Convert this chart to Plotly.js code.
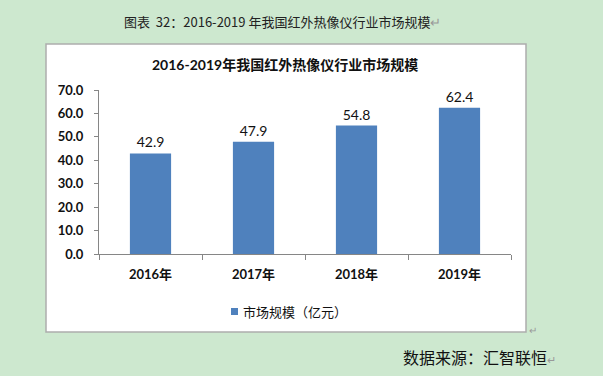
<!DOCTYPE html>
<html>
<head>
<meta charset="utf-8">
<script src="https://cdn.plot.ly/plotly-3.0.1.min.js"></script>
<style>
html,body{margin:0;padding:0;background:#cde8cf;}
#chart{width:603px;height:376px;}
</style>
</head>
<body>
<div id="chart"></div>
<script>
// ---- data ----
const categories = ["2016年", "2017年", "2018年", "2019年"];
const marketSize = [42.9, 47.9, 54.8, 62.4];
const seriesName = "市场规模（亿元）";
const chartTitle = "2016-2019年我国红外热像仪行业市场规模";
const docTitle = "图表  32：2016-2019 年我国红外热像仪行业市场规模";
const sourceText = "数据来源：汇智联恒";

// ---- layout helpers (pixel -> paper) ----
const W = 603, H = 376;
const M = {l: 99, r: 92, t: 90, b: 122};
const PW = W - M.l - M.r, PH = H - M.t - M.b;
const px = x => (x - M.l) / PW;
const py = y => (H - M.b - y) / PH;

const latin = "Lato, 'Noto Sans CJK SC', sans-serif";
const cjk = "'Noto Sans CJK SC', sans-serif";

const trace = {
  type: "bar",
  x: categories,
  y: marketSize,
  name: seriesName,
  marker: {color: "#4f81bd"},
  width: 0.4,
  text: marketSize.map(v => v.toFixed(1)),
  textposition: "outside",
  cliponaxis: false,
  textfont: {family: latin, size: 14, color: "#111"},
  showlegend: false,
  hoverinfo: "skip"
};

const layout = {
  width: W, height: H,
  margin: M,
  paper_bgcolor: "#cde8cf",
  plot_bgcolor: "rgba(0,0,0,0)",
  font: {family: latin, color: "#111"},
  xaxis: {
    type: "category",
    showline: true, linecolor: "#868686", linewidth: 1,
    ticks: "outside", ticklen: 5, tickcolor: "#868686",
    tickson: "boundaries",
    showgrid: false, zeroline: false,
    tickfont: {family: latin, size: 13, weight: "bold", color: "#111"},
    ticklabelstandoff: 8,
    fixedrange: true
  },
  yaxis: {
    range: [0, 70], dtick: 10, tickformat: ".1f",
    showline: true, linecolor: "#868686", linewidth: 1,
    ticks: "outside", ticklen: 4, tickcolor: "#868686",
    showgrid: false, zeroline: false,
    tickfont: {family: latin, size: 13, weight: "bold", color: "#111"},
    ticklabelstandoff: 8,
    fixedrange: true
  },
  shapes: [
    {type: "rect", xref: "paper", yref: "paper", layer: "below",
     x0: px(46), x1: px(526), y0: py(332), y1: py(44),
     fillcolor: "#ffffff", line: {color: "#adadad", width: 1.5}},
    {type: "rect", xref: "paper", yref: "paper",
     x0: px(231), x1: px(238), y0: py(315), y1: py(308),
     fillcolor: "#4f81bd", line: {width: 0}}
  ],
  annotations: [
    {xref: "paper", yref: "paper", x: px(122), y: py(21), xanchor: "left", yanchor: "middle",
     showarrow: false, text: docTitle + "<span style='color:#999'>↵</span>",
     font: {family: cjk, size: 13, color: "#222"}},
    {xref: "paper", yref: "paper", x: px(285), y: py(64), xanchor: "center", yanchor: "middle",
     showarrow: false, text: "<b>" + chartTitle + "</b>",
     font: {family: latin, size: 14, color: "#111"}},
    {xref: "paper", yref: "paper", x: px(241), y: py(311), xanchor: "left", yanchor: "middle",
     showarrow: false, text: seriesName,
     font: {family: cjk, size: 13, color: "#111"}},
    {xref: "paper", yref: "paper", x: px(527), y: py(329), xanchor: "left", yanchor: "middle",
     showarrow: false, text: "↵", font: {family: cjk, size: 10, color: "#999"}},
    {xref: "paper", yref: "paper", x: px(401), y: py(357), xanchor: "left", yanchor: "middle",
     showarrow: false, text: sourceText + "<span style='color:#999;font-size:11px'>↵</span>",
     font: {family: cjk, size: 16, color: "#111"}}
  ]
};

Plotly.newPlot("chart", [trace], layout, {displayModeBar: false, staticPlot: true});
</script>
</body>
</html>
